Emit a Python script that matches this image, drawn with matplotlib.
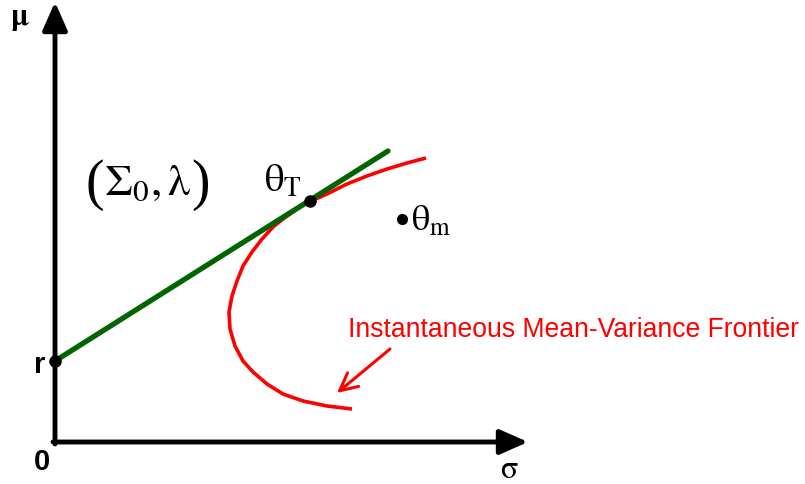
import matplotlib.pyplot as plt
import numpy as np

plt.rcParams['mathtext.fontset'] = 'stix'
plt.rcParams['font.family'] = 'Liberation Sans'

# risk-free rate and tangent line end
r_rate = 0.81
line_sigma = [0.0, 3.33]
line_mu = [r_rate, 2.91]

# frontier (sigma, mu)
frontier_sigma = [3.71, 3.52, 3.32, 3.12, 2.92, 2.72, 2.54, 2.42, 2.28, 2.18,
                  2.07, 1.97, 1.88, 1.82, 1.77, 1.74, 1.75, 1.80, 1.88, 1.98,
                  2.12, 2.28, 2.48, 2.72, 2.97]
frontier_mu = [2.84, 2.79, 2.73, 2.66, 2.58, 2.48, 2.40, 2.33, 2.23, 2.15,
               2.03, 1.90, 1.76, 1.61, 1.46, 1.30, 1.13, 0.96, 0.81, 0.70,
               0.58, 0.48, 0.41, 0.36, 0.33]

theta_T = (2.55, 2.41)
theta_m = (3.47, 2.23)

fig = plt.figure(figsize=(8.05, 4.85), dpi=100)
ax = fig.add_axes([0, 0, 1, 1])
ax.set_xlim(-0.55, 7.50)
ax.set_ylim(-0.42, 4.43)
ax.axis('off')

# axes with arrowheads
arr = dict(arrowstyle='-|>,head_length=0.95,head_width=0.42', lw=3.5, color='black',
           shrinkA=0, shrinkB=0, mutation_scale=18)
ax.annotate('', xy=(0, 4.40), xytext=(0, -0.02), arrowprops=arr)
ax.annotate('', xy=(4.73, 0), xytext=(-0.02, 0), arrowprops=arr)

ax.plot(line_sigma, line_mu, '-', color='#006400', lw=3.8, solid_capstyle='round', zorder=3)
ax.plot(frontier_sigma, frontier_mu, '-', color='red', lw=2.6, solid_capstyle='butt',
        solid_joinstyle='round', zorder=2)

ax.plot([0], [r_rate], 'o', color='black', ms=8, zorder=4)
ax.plot([theta_T[0]], [theta_T[1]], 'o', color='black', ms=8, zorder=4)
ax.plot([theta_m[0]], [theta_m[1]], 'o', color='black', ms=7, zorder=4)

ax.text(-0.35, 4.25, r'$\mathbf{\mu}$', fontsize=22, ha='center', va='center')
ax.text(4.54, -0.27, r'$\mathrm{\sigma}$', fontsize=23, ha='center', va='center')
ax.text(-0.13, -0.19, '0', fontsize=21, fontweight='bold', ha='center', va='center')
ax.text(-0.15, 0.78, 'r', fontsize=21, fontweight='bold', ha='center', va='center')

# parameter pair, brackets drawn taller than the mathtext ones
inner = ax.text(0.93, 2.60, r'$\mathrm{\Sigma_0,\lambda}$', fontsize=32,
                ha='center', va='center')
fig.canvas.draw()
bb = inner.get_window_extent().transformed(ax.transData.inverted())
ax.text(bb.x0, 2.58, '(', fontsize=40, family='Liberation Serif',
        ha='right', va='center')
ax.text(bb.x1, 2.58, ')', fontsize=40, family='Liberation Serif',
        ha='left', va='center')

ax.text(2.09, 2.62, r'$\mathrm{\theta_T}$', fontsize=28, ha='left', va='center')
ax.text(3.56, 2.22, r'$\mathrm{\theta_m}$', fontsize=26, ha='left', va='center')

ax.text(2.93, 1.13, 'Instantaneous Mean-Variance Frontier', fontsize=19.1, color='red',
        ha='left', va='center')
ax.annotate('', xy=(2.82, 0.49), xytext=(3.35, 0.93),
            arrowprops=dict(arrowstyle='->,head_length=0.7,head_width=0.35', lw=2.2,
                            color='red', shrinkA=0, shrinkB=0, mutation_scale=18))

fig.savefig('out.png', dpi=100)
